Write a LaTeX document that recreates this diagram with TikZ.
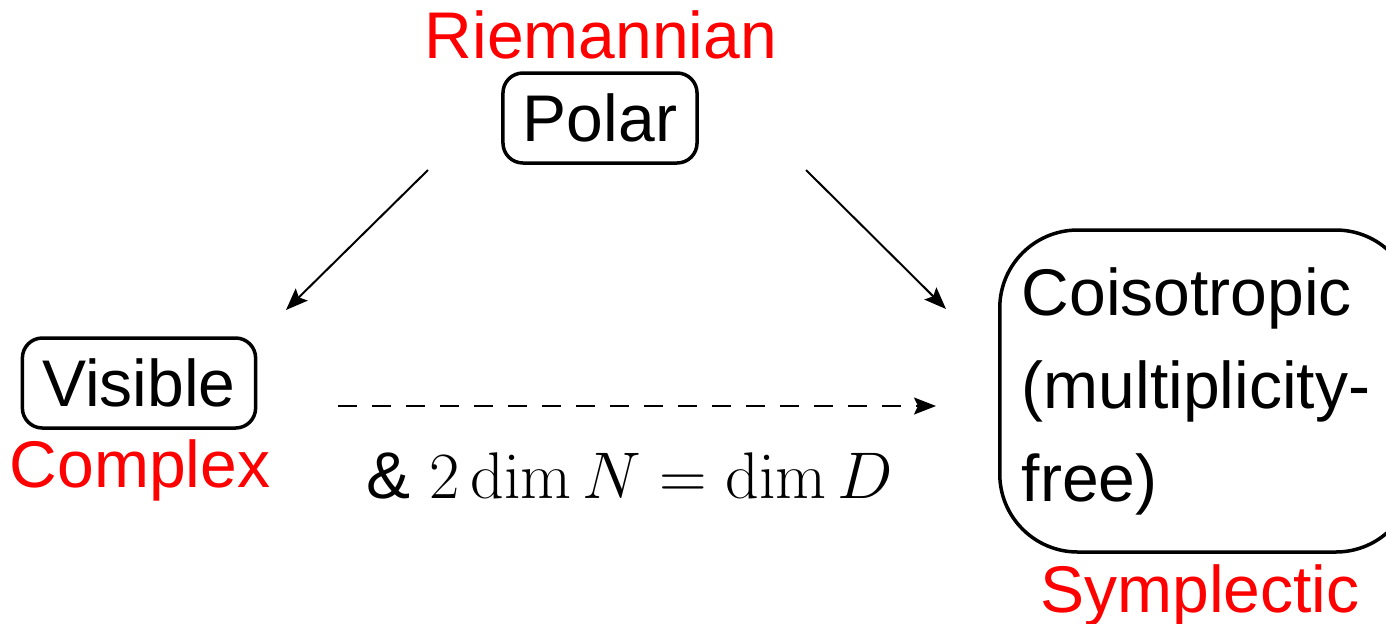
\RequirePackage{fix-cm}
\documentclass[tikz,border=0pt]{standalone}
\usepackage[no-math]{fontspec}
\setmainfont{Liberation Sans}
\usepackage{amsmath}
\usetikzlibrary{arrows.meta, positioning, calc}
\definecolor{lblred}{RGB}{255,0,0}
\tikzset{
  classbox/.style={draw, line width=1.75pt, rounded corners=10pt, inner xsep=10pt,
    minimum height=45pt, font=\fontsize{33}{40}\selectfont},
  classlbl/.style={text=lblred, font=\fontsize{33}{40}\selectfont, anchor=base, inner sep=0pt},
  implarrow/.style={line width=1pt, -{Stealth[length=11pt, width=8.5pt, inset=2pt]}}
}

\begin{document}
\begin{tikzpicture}[x=0.5pt, y=-0.5pt]
\useasboundingbox (0,0) rectangle (1386,623);
\clip (0,0) rectangle (1386,623);

% ---- classes ----
\node[classbox] (polar)   at (600,118) {Polar};
\node[classbox] (visible) at (139,383) {Visible};
\node[classbox, rounded corners=39pt, anchor=west, minimum height=161pt,
      text width=185pt, align=left, inner xsep=11pt,
      font=\fontsize{33}{46.5}\selectfont] (coiso) at (998,391)
  {Coisotropic\\(multiplicity-\\free)};

% ---- geometry labels ----
\node[classlbl] (riem)  at (601,58)   {Riemannian};
\node[classlbl] (cplx)  at (140,487)  {Complex};
\node[classlbl] (sympl) at (1200,612) {Symplectic};

% ---- implications ----
\coordinate (pv) at (428,170);
\coordinate (vp) at (286,310);
\coordinate (pc) at (806,170);
\coordinate (cp) at (946,309);
\coordinate (vc) at (338,406);
\coordinate (cv) at (936,406);
\draw[implarrow] (pv) -- (vp);
\draw[implarrow] (pc) -- (cp);
\draw[implarrow, dash pattern=on 9.5pt off 7.5pt] (vc) -- (cv);

\node[anchor=base, inner sep=0pt, font=\fontsize{33}{40}\selectfont] (cond) at (630,498)
  {\& $2\dim N=\dim D$};
\end{tikzpicture}
\end{document}
